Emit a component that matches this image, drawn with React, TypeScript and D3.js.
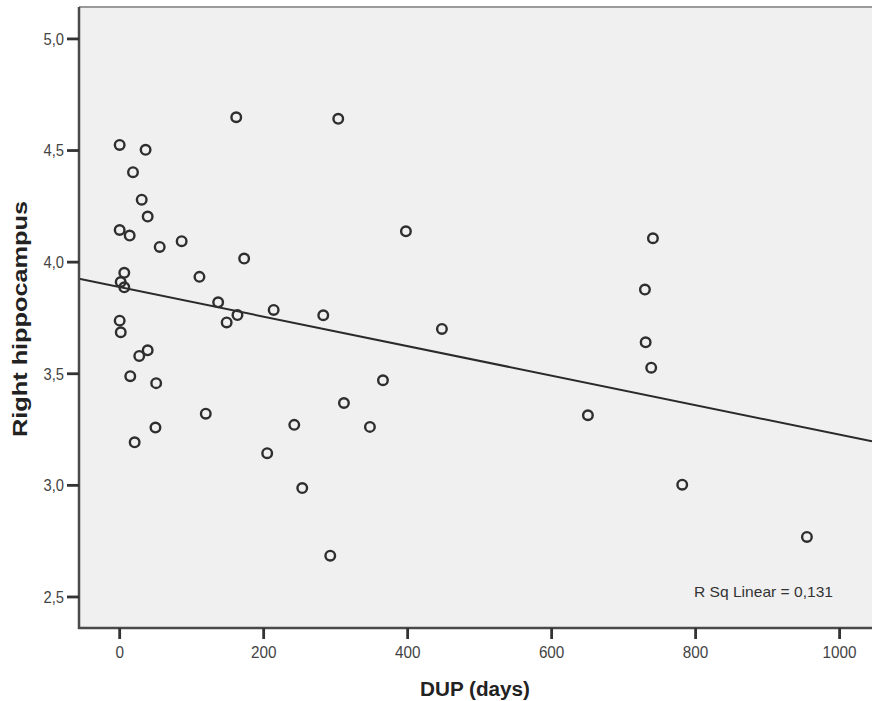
import React from "react";
import * as d3 from "d3";

const dupDays: number[] = [
  0, 36, 18.5, 30.6, 38.9, 0, 13.9, 55.6, 86.1, 161.9, 303.6, 172.9, 110.8, 397.6,
  6.4, 1.4, 6.4, 136.8, 213.9, 163.6, 148.6, 282.8, 0, 1.5, 38.9, 27.2, 14.7, 50.7,
  119.6, 49.7, 20.8, 204.9, 242.5, 253.6, 311.5, 347.6, 365.7, 447.6, 292.5, 650.4,
  729.6, 730.6, 738.3, 740.7, 781.4, 954.6,
];
const rightHippocampus: number[] = [
  4.525, 4.503, 4.403, 4.28, 4.204, 4.144, 4.119, 4.068, 4.094, 4.649, 4.642, 4.016, 3.934, 4.138,
  3.952, 3.911, 3.887, 3.82, 3.786, 3.763, 3.73, 3.762, 3.738, 3.686, 3.605, 3.58, 3.489, 3.458,
  3.321, 3.259, 3.193, 3.144, 3.271, 2.988, 3.369, 3.262, 3.471, 3.701, 2.685, 3.314,
  3.877, 3.641, 3.527, 4.107, 3.003, 2.769,
];
const xTicks: number[] = [0, 200, 400, 600, 800, 1000];
const yTicks: number[] = [2.5, 3.0, 3.5, 4.0, 4.5, 5.0];
const fitIntercept = 3.888;
const fitSlope = -0.000661;
const rSqLabel = "R Sq Linear = 0,131";
const xTitle = "DUP (days)";
const yTitle = "Right hippocampus";

const W = 872;
const H = 701;
const left = 79;
const right = 872;
const top = 7;
const bottom = 628;

export default function App() {
  const x = d3.scaleLinear().domain([-56.5, 1045]).range([left, right]);
  const y = d3.scaleLinear().domain([2.361, 5.143]).range([bottom, top]);
  const fmt = (v: number) => d3.format(".1f")(v).replace(".", ",");
  const xd = x.domain();
  const line = d3.line<number>().x((d) => x(d)).y((d) => y(fitIntercept + fitSlope * d));
  const font = "'Liberation Sans', Arial, sans-serif";
  const pts = dupDays.map((d, i) => [d, rightHippocampus[i]]);

  return (
    <svg width={W} height={H} style={{ position: "absolute", left: 0, top: 0, display: "block", background: "#fff" }} fontFamily={font}>
      <defs>
        <clipPath id="plotclip">
          <rect x={left} y={top} width={right - left} height={bottom - top} />
        </clipPath>
      </defs>
      <rect x={left} y={top} width={right - left} height={bottom - top} fill="#f0f0f0" />
      <line x1={left} x2={right} y1={top} y2={top} stroke="#9a9a9a" strokeWidth={2} />
      <g clipPath="url(#plotclip)">
        <path d={line([xd[0], xd[1]]) || ""} fill="none" stroke="#2a2a2a" strokeWidth={2} />
        {pts.map((p, i) => (
          <circle key={i} cx={x(p[0])} cy={y(p[1])} r={4.8} fill="none" stroke="#2e2e2e" strokeWidth={2.4} />
        ))}
      </g>
      <line x1={left} x2={left} y1={top} y2={bottom + 1} stroke="#4a4a4a" strokeWidth={2.5} />
      <line x1={left - 1} x2={right} y1={bottom} y2={bottom} stroke="#4a4a4a" strokeWidth={2.5} />
      {yTicks.map((t) => (
        <g key={t}>
          <line x1={left - 12} x2={left} y1={y(t)} y2={y(t)} stroke="#333" strokeWidth={2.8} />
          <text x={left - 15} y={y(t)} dy="0.36em" textAnchor="end" fontSize={16} fill="#444"
            textLength={20.5} lengthAdjust="spacingAndGlyphs">
            {fmt(t)}
          </text>
        </g>
      ))}
      {xTicks.map((t) => (
        <g key={t}>
          <line x1={x(t)} x2={x(t)} y1={bottom} y2={bottom + 11} stroke="#333" strokeWidth={2.8} />
          <text x={x(t)} y={658} textAnchor="middle" fontSize={16} fill="#444"
            textLength={String(t).length * 8.5} lengthAdjust="spacingAndGlyphs">
            {t}
          </text>
        </g>
      ))}
      <text x={475} y={696} textAnchor="middle" fontSize={20} fontWeight="bold" fill="#222"
        textLength={110} lengthAdjust="spacingAndGlyphs">
        {xTitle}
      </text>
      <text transform={`translate(27,319) rotate(-90)`} textAnchor="middle" fontSize={20} fontWeight="bold" fill="#222"
        textLength={236} lengthAdjust="spacingAndGlyphs">
        {yTitle}
      </text>
      <text x={694} y={597} fontSize={15} fill="#333" textLength={139} lengthAdjust="spacingAndGlyphs">
        {rSqLabel}
      </text>
    </svg>
  );
}
